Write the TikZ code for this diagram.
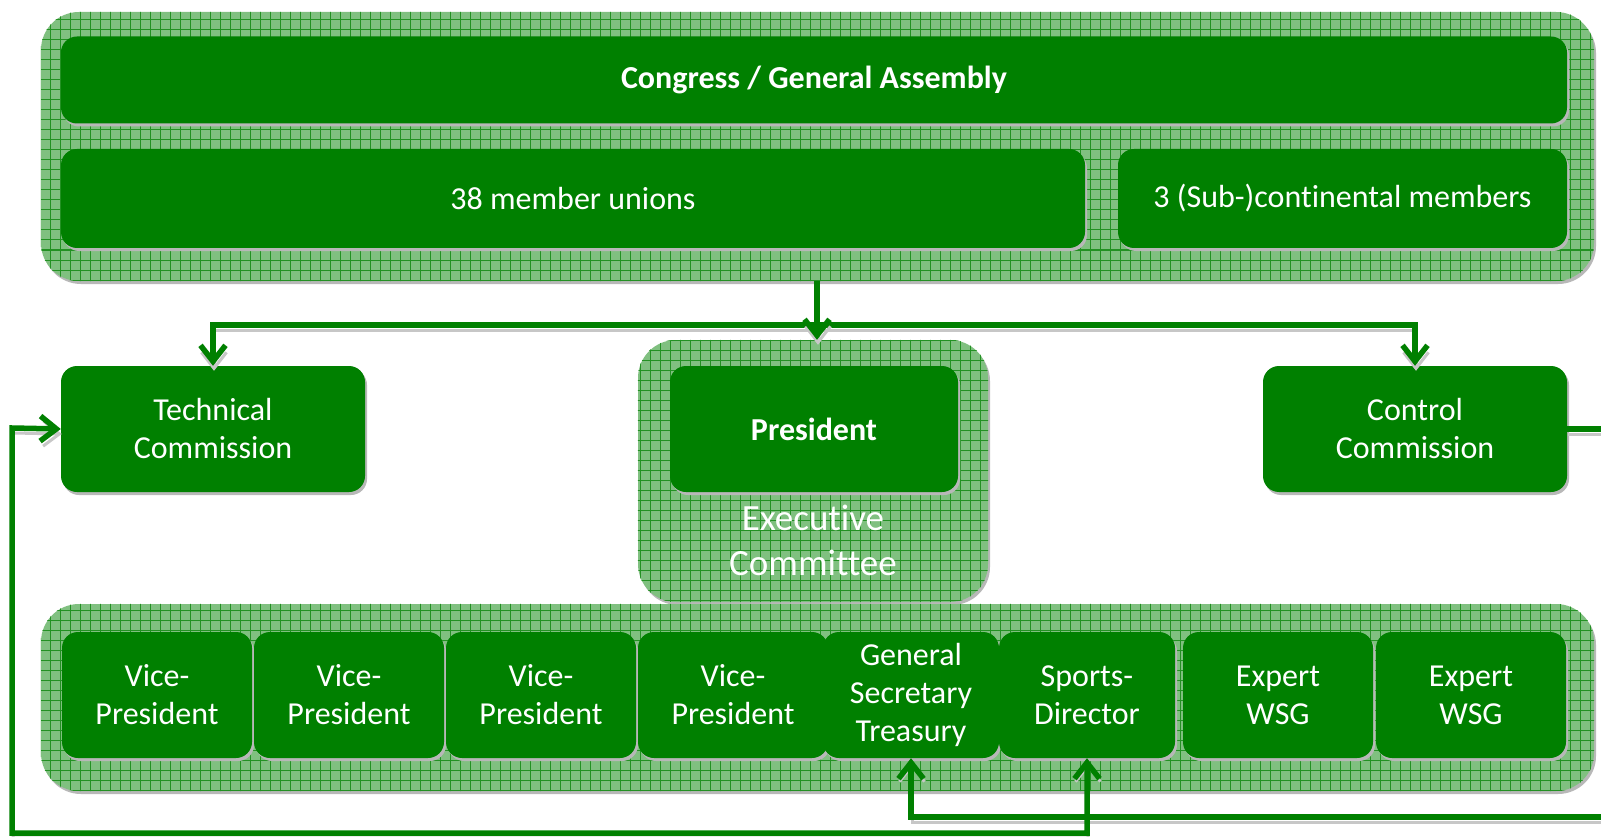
\documentclass[tikz,border=0pt]{standalone}
\usepackage{fontspec}
\setmainfont{Carlito}[Ligatures=NoCommon]
\usetikzlibrary{arrows.meta}
\definecolor{boxgreen}{RGB}{0,128,0}
\definecolor{hatchbg}{RGB}{128,192,128}
\definecolor{hatchline}{RGB}{35,145,35}
\begin{document}
\begin{tikzpicture}[x=1pt,y=-1pt,
  shadowed/.style={preaction={fill=black!28, transform canvas={shift={(2pt,-3pt)}}}},
  box/.style={rectangle, rounded corners=16pt, fill=boxgreen, text=white, align=center,
    inner sep=0pt, font=\fontsize{32}{38}\selectfont, shadowed},
  cont/.style={rectangle, rounded corners=38pt, fill=hatchbg, inner sep=0pt, shadowed},
  tip/.tip={Straight Barb[length=16pt,width=25pt]},
  lineshadow/.style={preaction={draw=black!22, line width=3pt, transform canvas={shift={(1pt,-5pt)}}}},
  conn/.style={draw=boxgreen, line width=5.5pt, lineshadow, -tip},
  connboth/.style={draw=boxgreen, line width=5.5pt, lineshadow, tip-tip}
]
\useasboundingbox (0,0) rectangle (1601,837);
\clip (0,0) rectangle (1601,837);
\fill[white] (0,0) rectangle (1601,837);

% containers
\node[cont, minimum width=1553pt, minimum height=269pt] (top) at (817.5,146.5) {};
\node[cont, minimum width=350pt, minimum height=262pt] (exec) at (813,471) {};
\node[cont, minimum width=1553pt, minimum height=187pt] (bottom) at (817.5,697.5) {};
\foreach \c in {top,exec,bottom}{
  \begin{scope}
    \clip[rounded corners=38pt] (\c.north west) rectangle (\c.south east);
    \draw[hatchline, line width=1pt, step=10pt] ([shift={(-10pt,10pt)}]\c.north west) grid ([shift={(10pt,-10pt)}]\c.south east);
  \end{scope}
}

% top boxes
\node[box, minimum width=1506pt, minimum height=87pt, font=\fontsize{32}{38}\selectfont\bfseries] (congress) at (814,80) {Congress / General Assembly};
\node[box, minimum width=1024pt, minimum height=99pt] (unions) at (573,198.5) {38 member unions};
\node[box, minimum width=449pt, minimum height=99pt] (cont3) at (1342.5,198.5) {3 (Sub-)continental members};

% middle
\node[box, minimum width=304pt, minimum height=126pt] (tc) at (213,429) {Technical\\Commission};
\node[box, minimum width=304pt, minimum height=126pt] (cc) at (1415,429) {Control\\Commission};
\node[box, minimum width=288pt, minimum height=126pt, font=\fontsize{32}{38}\selectfont\bfseries] (pres) at (814,429) {President};
\node[text=white, align=center, font=\fontsize{37}{45}\selectfont, inner sep=0pt] (execlabel) at (813,540) {Executive\\Committee};

% bottom boxes
\node[box, minimum width=190pt, minimum height=126pt] (vp1) at (157,695) {Vice-\\President};
\node[box, minimum width=190pt, minimum height=126pt] (vp2) at (349,695) {Vice-\\President};
\node[box, minimum width=190pt, minimum height=126pt] (vp3) at (541,695) {Vice-\\President};
\node[box, minimum width=190pt, minimum height=126pt] (vp4) at (733,695) {Vice-\\President};
\node[box, minimum width=176pt, minimum height=126pt] (gs) at (911,695) {General\\Secretary\\Treasury};
\node[box, minimum width=176pt, minimum height=126pt] (sd) at (1087,695) {Sports-\\Director};
\node[box, minimum width=190pt, minimum height=126pt] (e1) at (1278,695) {Expert\\WSG};
\node[box, minimum width=190pt, minimum height=126pt] (e2) at (1471,695) {Expert\\WSG};

% connectors
\coordinate (split) at (817,325);
\draw[conn] (split) -| (tc.north);
\draw[conn] (split) -| (cc.north);
\draw[conn] (split |- top.south) -- (split |- exec.north);
\draw[conn] (cc.east) -- (1640,429) -- (1640,817) -- (gs.south |- 0,817) -- (gs.south);
\draw[connboth] (sd.south) -- (sd.south |- 0,833) -- (12,833) -- (12,428) -- (tc.west);
\end{tikzpicture}
\end{document}
